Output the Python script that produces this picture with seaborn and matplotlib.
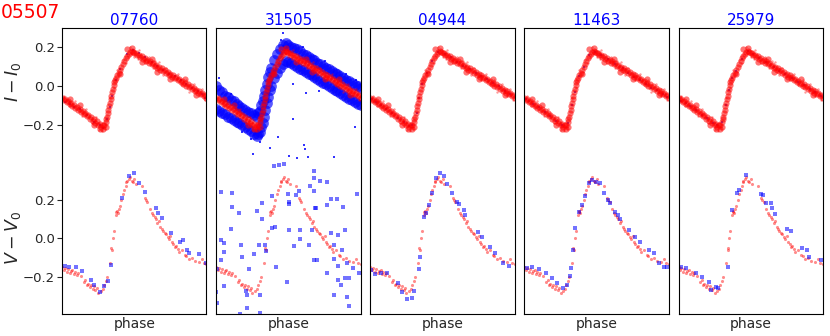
import numpy as np
import pandas as pd
import matplotlib
matplotlib.use("Agg")
import matplotlib.pyplot as plt
import seaborn as sns

STAR = "05507"
COMPARISONS = ["07760", "31505", "04944", "11463", "25979"]

# ---- target star (red), same in every panel: (phase, I - I0) ----
red_i = [
    (0.00, -0.060), (0.01, -0.075), (0.02, -0.068), (0.03, -0.085), (0.04, -0.080),
    (0.05, -0.095), (0.06, -0.088), (0.07, -0.105), (0.08, -0.100), (0.09, -0.115),
    (0.10, -0.110), (0.11, -0.125), (0.12, -0.118), (0.13, -0.135), (0.14, -0.128),
    (0.15, -0.147), (0.16, -0.140), (0.17, -0.158), (0.18, -0.150), (0.19, -0.170),
    (0.20, -0.160), (0.21, -0.180), (0.22, -0.172), (0.23, -0.190), (0.24, -0.182),
    (0.25, -0.205), (0.26, -0.195), (0.27, -0.215), (0.28, -0.205), (0.285, -0.222),
    (0.29, -0.200), (0.30, -0.185), (0.305, -0.170), (0.31, -0.160), (0.315, -0.140),
    (0.32, -0.125), (0.325, -0.105), (0.33, -0.090), (0.335, -0.070), (0.34, -0.050),
    (0.345, -0.030), (0.35, -0.015), (0.355, 0.005), (0.36, 0.020), (0.365, 0.030),
    (0.37, 0.040), (0.38, 0.055), (0.39, 0.070), (0.40, 0.085), (0.41, 0.100),
    (0.42, 0.115), (0.43, 0.128), (0.44, 0.145), (0.45, 0.155), (0.46, 0.168),
    (0.47, 0.175), (0.48, 0.182), (0.49, 0.176), (0.50, 0.170), (0.51, 0.172),
    (0.52, 0.160), (0.53, 0.162), (0.54, 0.150), (0.55, 0.155), (0.56, 0.140),
    (0.57, 0.145), (0.58, 0.130), (0.59, 0.137), (0.60, 0.122), (0.61, 0.128),
    (0.62, 0.112), (0.63, 0.120), (0.64, 0.103), (0.65, 0.110), (0.66, 0.095),
    (0.67, 0.100), (0.68, 0.085), (0.69, 0.092), (0.70, 0.076), (0.71, 0.083),
    (0.72, 0.066), (0.73, 0.074), (0.74, 0.057), (0.75, 0.064), (0.76, 0.048),
    (0.77, 0.055), (0.78, 0.039), (0.79, 0.046), (0.80, 0.029), (0.81, 0.036),
    (0.82, 0.020), (0.83, 0.027), (0.84, 0.011), (0.85, 0.018), (0.86, 0.002),
    (0.87, 0.009), (0.88, -0.007), (0.89, 0.000), (0.90, -0.017), (0.91, -0.010),
    (0.92, -0.026), (0.93, -0.019), (0.94, -0.035), (0.95, -0.028), (0.96, -0.044),
    (0.97, -0.037), (0.98, -0.053), (0.99, -0.047), (1.00, -0.062),
    (0.12, -0.100), (0.22, -0.205), (0.26, -0.225), (0.30, -0.215), (0.40, 0.060),
    (0.45, 0.190), (0.55, 0.125), (0.62, 0.140), (0.75, 0.035), (0.85, 0.035),
    (0.93, -0.045), (0.05, -0.070), (0.48, 0.195), (0.66, 0.075),
]
# sparse fringe of fainter target points around the band
red_i_fringe = [
    (0.015, -0.050), (0.045, -0.105), (0.085, -0.080), (0.135, -0.155), (0.165, -0.120),
    (0.205, -0.190), (0.235, -0.160), (0.255, -0.230), (0.275, -0.235), (0.295, -0.225),
    (0.33, -0.060), (0.36, -0.010), (0.38, 0.085), (0.42, 0.135), (0.44, 0.120),
    (0.47, 0.200), (0.50, 0.150), (0.53, 0.185), (0.57, 0.120), (0.60, 0.150),
    (0.63, 0.095), (0.67, 0.125), (0.70, 0.055), (0.72, 0.095), (0.77, 0.030),
    (0.80, 0.060), (0.83, 0.005), (0.86, 0.030), (0.88, -0.030), (0.91, 0.010),
    (0.95, -0.050), (0.97, -0.015), (0.99, -0.075), (0.525, 0.140), (0.645, 0.130),
]

# ---- target star (red): (phase, V - V0) ----
red_v = [
    (0.00, -0.150), (0.01, -0.165), (0.02, -0.155), (0.03, -0.175), (0.04, -0.160),
    (0.05, -0.180), (0.06, -0.170), (0.07, -0.165), (0.08, -0.185), (0.09, -0.175),
    (0.10, -0.190), (0.11, -0.180), (0.13, -0.195), (0.15, -0.225), (0.16, -0.215),
    (0.17, -0.245), (0.18, -0.235), (0.19, -0.255), (0.20, -0.240), (0.21, -0.265),
    (0.22, -0.250), (0.23, -0.270), (0.24, -0.260), (0.25, -0.285), (0.27, -0.275),
    (0.28, -0.265), (0.29, -0.240), (0.30, -0.220), (0.31, -0.200), (0.33, -0.130),
    (0.34, -0.050), (0.345, -0.060), (0.35, 0.000), (0.36, 0.040), (0.37, 0.120),
    (0.375, 0.135), (0.38, 0.140), (0.385, 0.130), (0.39, 0.150), (0.40, 0.170),
    (0.41, 0.200), (0.42, 0.230), (0.43, 0.250), (0.44, 0.270), (0.445, 0.290),
    (0.45, 0.300), (0.46, 0.310), (0.47, 0.320), (0.48, 0.300), (0.49, 0.290),
    (0.50, 0.310), (0.51, 0.280), (0.55, 0.270), (0.57, 0.210), (0.58, 0.200),
    (0.59, 0.190), (0.61, 0.150), (0.62, 0.130), (0.63, 0.120), (0.64, 0.110),
    (0.65, 0.100), (0.66, 0.080), (0.67, 0.090), (0.68, 0.060), (0.69, 0.050),
    (0.70, 0.040), (0.71, 0.030), (0.72, 0.020), (0.73, 0.005), (0.74, -0.005),
    (0.75, 0.010), (0.76, -0.020), (0.77, -0.030), (0.78, -0.045), (0.79, -0.040),
    (0.80, -0.055), (0.81, -0.070), (0.83, -0.060), (0.85, -0.085), (0.86, -0.090),
    (0.88, -0.110), (0.90, -0.100), (0.92, -0.120), (0.95, -0.125), (0.97, -0.110),
    (0.98, -0.130), (1.00, -0.135),
]

# ---- comparison stars (blue) ----
blue_i_07760 = [
    (0.02, -0.085), (0.05, -0.092), (0.08, -0.110), (0.12, -0.120), (0.17, -0.150),
    (0.22, -0.185), (0.26, -0.205), (0.28, -0.218), (0.31, -0.170), (0.33, -0.110),
    (0.345, -0.050), (0.37, 0.030), (0.40, 0.090), (0.45, 0.165), (0.49, 0.185),
    (0.53, 0.170), (0.57, 0.150), (0.62, 0.125), (0.66, 0.105), (0.70, 0.085),
    (0.74, 0.060), (0.78, 0.050), (0.82, 0.030), (0.86, 0.012), (0.90, -0.010),
    (0.94, -0.025), (0.97, -0.040), (0.99, -0.060),
]
blue_v_07760 = [
    (0.019, -0.144), (0.046, -0.150), (0.092, -0.150), (0.134, -0.171), (0.198, -0.214),
    (0.220, -0.245), (0.260, -0.280), (0.290, -0.250), (0.318, -0.223), (0.337, -0.137),
    (0.411, 0.211), (0.462, 0.323), (0.497, 0.337), (0.531, 0.289), (0.573, 0.243),
    (0.647, 0.157), (0.665, 0.130), (0.693, 0.104), (0.757, 0.028), (0.813, -0.017),
    (0.840, -0.007), (0.868, -0.059), (0.877, -0.076), (0.947, -0.081), (1.000, -0.130),
]

blue_i_31505_upper = [
    (0.00, 0.000), (0.02, -0.020), (0.04, -0.030), (0.06, -0.050), (0.08, -0.055),
    (0.10, -0.075), (0.12, -0.080), (0.14, -0.095), (0.16, -0.105), (0.18, -0.112),
    (0.20, -0.125), (0.22, -0.135), (0.24, -0.140), (0.26, -0.150), (0.28, -0.160),
    (0.29, -0.140), (0.30, -0.130), (0.31, -0.100), (0.32, -0.080), (0.33, -0.050),
    (0.34, -0.020), (0.35, 0.010), (0.36, 0.045), (0.37, 0.075), (0.38, 0.095),
    (0.40, 0.135), (0.42, 0.165), (0.44, 0.190), (0.46, 0.215), (0.48, 0.225),
    (0.50, 0.215), (0.52, 0.205), (0.54, 0.195), (0.56, 0.190), (0.58, 0.180),
    (0.60, 0.168), (0.62, 0.160), (0.64, 0.150), (0.66, 0.140), (0.68, 0.135),
    (0.70, 0.122), (0.72, 0.115), (0.74, 0.105), (0.76, 0.095), (0.78, 0.088),
    (0.80, 0.078), (0.82, 0.070), (0.84, 0.060), (0.86, 0.050), (0.88, 0.042),
    (0.90, 0.032), (0.92, 0.025), (0.94, 0.015), (0.96, 0.005), (0.98, -0.002),
    (1.00, -0.010),
]
blue_i_31505_lower = [
    (0.00, -0.120), (0.02, -0.128), (0.04, -0.140), (0.06, -0.145), (0.08, -0.160),
    (0.10, -0.165), (0.12, -0.175), (0.14, -0.185), (0.16, -0.190), (0.18, -0.205),
    (0.20, -0.212), (0.22, -0.222), (0.24, -0.235), (0.26, -0.250), (0.28, -0.258),
    (0.29, -0.250), (0.30, -0.240), (0.31, -0.215), (0.32, -0.190), (0.33, -0.160),
    (0.34, -0.125), (0.35, -0.090), (0.36, -0.055), (0.37, -0.020), (0.38, 0.000),
    (0.40, 0.040), (0.42, 0.070), (0.44, 0.095), (0.46, 0.115), (0.48, 0.130),
    (0.50, 0.125), (0.52, 0.118), (0.54, 0.110), (0.56, 0.100), (0.58, 0.090),
    (0.60, 0.082), (0.62, 0.072), (0.64, 0.062), (0.66, 0.055), (0.68, 0.045),
    (0.70, 0.035), (0.72, 0.028), (0.74, 0.018), (0.76, 0.008), (0.78, 0.000),
    (0.80, -0.010), (0.82, -0.020), (0.84, -0.028), (0.86, -0.038), (0.88, -0.046),
    (0.90, -0.056), (0.92, -0.065), (0.94, -0.075), (0.96, -0.082), (0.98, -0.092),
    (1.00, -0.100),
]
blue_i_31505_outliers = [
    (0.375, -0.324), (0.428, -0.267), (0.528, -0.171), (0.606, -0.306), (0.613, -0.327),
    (0.636, -0.367), (0.504, -0.364), (0.254, -0.353), (0.556, -0.372), (0.815, -0.370),
    (0.463, 0.274), (0.963, -0.211), (0.625, -0.035), (0.715, -0.025), (0.528, 0.010),
    (0.02, 0.040), (0.10, -0.040), (0.24, -0.275), (0.30, -0.290), (0.45, 0.240),
    (0.60, 0.205), (0.75, 0.130), (0.90, 0.060), (0.97, 0.030), (0.18, -0.240),
]
blue_v_31505 = [
    (0.398, 0.377), (0.435, 0.381), (0.467, 0.386), (0.678, 0.350), (0.678, 0.312),
    (0.717, 0.299), (0.768, 0.292), (0.648, 0.273), (0.574, 0.246), (0.676, 0.247),
    (0.032, 0.239), (0.106, 0.235), (0.386, 0.221), (0.500, 0.230), (0.551, 0.227),
    (0.972, 0.229), (0.796, 0.203), (0.838, 0.204), (0.504, 0.190), (0.317, 0.182),
    (0.504, 0.177), (0.106, 0.164), (0.764, 0.175), (0.685, 0.159), (0.694, 0.156),
    (0.879, 0.161), (0.155, 0.133), (0.280, 0.142), (0.317, 0.102), (0.407, 0.060),
    (0.099, 0.047), (0.384, 0.055), (0.504, 0.043), (0.583, 0.043), (0.662, 0.043),
    (0.893, 0.042), (0.847, 0.016), (0.796, 0.026), (0.032, -0.010), (0.056, -0.024),
    (0.539, -0.042), (0.169, -0.035), (0.296, -0.036), (0.338, -0.035), (0.583, -0.004),
    (0.643, -0.035), (0.261, -0.083), (0.813, -0.035), (0.872, -0.061), (0.056, -0.070),
    (0.342, -0.068), (0.176, -0.097), (0.032, -0.111), (0.680, -0.113), (0.701, -0.113),
    (0.815, -0.108), (0.903, -0.130), (0.004, -0.158), (0.226, -0.161), (0.414, -0.151),
    (0.842, -0.144), (0.951, -0.154), (0.768, -0.182), (0.988, -0.180), (0.891, -0.206),
    (0.053, -0.249), (0.493, -0.225), (0.921, -0.208), (0.845, -0.218), (0.863, -0.241),
    (0.000, -0.277), (0.203, -0.275), (0.213, -0.293), (0.301, -0.296), (0.815, -0.293),
    (0.905, -0.303), (0.004, -0.338), (0.213, -0.360), (0.921, -0.352), (0.301, -0.387),
    (0.164, -0.393),
]

blue_i_04944 = [
    (0.01, -0.070), (0.04, -0.085), (0.07, -0.100), (0.11, -0.118), (0.15, -0.140),
    (0.19, -0.165), (0.23, -0.185), (0.27, -0.210), (0.29, -0.205), (0.32, -0.140),
    (0.34, -0.060), (0.36, 0.010), (0.39, 0.065), (0.43, 0.130), (0.47, 0.178),
    (0.52, 0.165), (0.56, 0.150), (0.60, 0.125), (0.64, 0.105), (0.69, 0.090),
    (0.73, 0.070), (0.77, 0.050), (0.81, 0.035), (0.85, 0.015), (0.89, 0.000),
    (0.93, -0.025), (0.97, -0.040),
]
blue_v_04944 = [
    (0.007, -0.165), (0.035, -0.187), (0.074, -0.182), (0.115, -0.182), (0.189, -0.231),
    (0.219, -0.277), (0.254, -0.317), (0.289, -0.312), (0.300, -0.274), (0.334, -0.161),
    (0.346, -0.095), (0.374, 0.112), (0.385, 0.133), (0.404, 0.173), (0.427, 0.234),
    (0.457, 0.312), (0.485, 0.341), (0.508, 0.324), (0.531, 0.282), (0.566, 0.234),
    (0.600, 0.190), (0.612, 0.177), (0.646, 0.147), (0.658, 0.121), (0.743, 0.034),
    (0.774, 0.005), (0.826, -0.044), (0.866, -0.078), (0.919, -0.127), (0.958, -0.144),
]

blue_i_11463 = [
    (0.01, -0.070), (0.03, -0.080), (0.06, -0.092), (0.10, -0.110), (0.14, -0.135),
    (0.18, -0.155), (0.22, -0.180), (0.26, -0.200), (0.30, -0.190), (0.33, -0.100),
    (0.35, -0.030), (0.38, 0.050), (0.41, 0.100), (0.45, 0.160), (0.49, 0.175),
    (0.53, 0.160), (0.58, 0.140), (0.63, 0.115), (0.68, 0.095), (0.72, 0.070),
    (0.76, 0.045), (0.80, 0.030), (0.84, 0.010), (0.88, -0.010), (0.92, -0.020),
    (0.96, -0.040), (0.99, -0.055),
]
blue_v_11463 = [
    (0.018, -0.156), (0.053, -0.147), (0.099, -0.161), (0.146, -0.182), (0.192, -0.208),
    (0.226, -0.234), (0.268, -0.260), (0.296, -0.243), (0.319, -0.196), (0.323, -0.156),
    (0.337, -0.061), (0.353, 0.052), (0.376, 0.138), (0.400, 0.173), (0.423, 0.220),
    (0.446, 0.286), (0.469, 0.303), (0.499, 0.294), (0.527, 0.286), (0.550, 0.234),
    (0.577, 0.199), (0.596, 0.182), (0.631, 0.138), (0.649, 0.121), (0.665, 0.099),
    (0.723, 0.043), (0.769, 0.008), (0.799, -0.018), (0.861, -0.061), (0.896, -0.078),
    (0.931, -0.130), (0.965, -0.147), (0.989, -0.147),
]

blue_i_25979 = [
    (0.02, -0.080), (0.05, -0.090), (0.08, -0.105), (0.12, -0.125), (0.16, -0.150),
    (0.20, -0.165), (0.24, -0.190), (0.27, -0.205), (0.30, -0.185), (0.33, -0.100),
    (0.35, -0.020), (0.37, 0.040), (0.40, 0.080), (0.44, 0.140), (0.48, 0.180),
    (0.52, 0.165), (0.56, 0.145), (0.61, 0.125), (0.66, 0.100), (0.70, 0.080),
    (0.74, 0.060), (0.79, 0.040), (0.83, 0.020), (0.87, 0.005), (0.91, -0.015),
    (0.95, -0.030), (0.99, -0.050),
]
blue_v_25979 = [
    (0.018, -0.147), (0.053, -0.156), (0.122, -0.182), (0.161, -0.203), (0.214, -0.225),
    (0.225, -0.269), (0.259, -0.251), (0.271, -0.260), (0.344, -0.147), (0.374, 0.147),
    (0.409, 0.234), (0.420, 0.251), (0.466, 0.329), (0.569, 0.230), (0.588, 0.225),
    (0.604, 0.185), (0.638, 0.185), (0.650, 0.156), (0.672, 0.126), (0.753, 0.047),
    (0.780, 0.039), (0.856, -0.052), (0.891, -0.061), (0.908, -0.095), (0.987, -0.113),
]

# vertical placement of the two light curves inside one column
V_SHIFT = 0.791
Y_TOP, Y_BOTTOM = 0.30, -1.184


def to_df(points, shift=0.0):
    df = pd.DataFrame(points, columns=["phase", "mag"])
    df["y"] = df["mag"] - shift
    return df


def dots(ax, df, color, s, alpha, marker="o"):
    sns.scatterplot(data=df, x="phase", y="y", ax=ax, color=color, s=s, alpha=alpha,
                    marker=marker, linewidth=0, legend=False)


sns.set_style("ticks")
plt.rcParams["font.family"] = ["DejaVu Sans"]

fig, axes = plt.subplots(1, 5, figsize=(8.3, 3.36), dpi=100, sharey=True)
fig.subplots_adjust(left=0.0751, right=0.9912, top=0.916, bottom=0.0655, wspace=0.0686)

panels = {
    "07760": ([blue_i_07760], blue_v_07760),
    "31505": ([blue_i_31505_upper, blue_i_31505_lower], blue_v_31505),
    "04944": ([blue_i_04944], blue_v_04944),
    "11463": ([blue_i_11463], blue_v_11463),
    "25979": ([blue_i_25979], blue_v_25979),
}

red_i_df = to_df(red_i)
red_fringe_df = to_df(red_i_fringe)
red_v_df = to_df(red_v, V_SHIFT)

for ax, name in zip(axes, COMPARISONS):
    blue_i_sets, blue_v = panels[name]
    if name == "31505":
        for band in blue_i_sets:
            dots(ax, to_df(band), "blue", 60, 0.65)
        dots(ax, to_df(blue_i_31505_outliers), "blue", 4, 0.8, "s")
    else:
        dots(ax, to_df(blue_i_sets[0]), "blue", 4, 0.7, "s")
    dots(ax, red_fringe_df, "red", 3, 0.4)
    dots(ax, red_i_df, "red", 20, 0.55)
    dots(ax, red_v_df, "red", 5, 0.45)
    dots(ax, to_df(blue_v, V_SHIFT), "blue", 6, 0.55, "s")

    ax.set_xlim(0, 1)
    ax.set_ylim(Y_BOTTOM, Y_TOP)
    ax.set_xticks([])
    ax.set_xlabel("phase", fontsize=10, labelpad=2)
    ax.set_ylabel("")
    ax.set_title(name, color="blue", fontsize=11, pad=2.5)
    for sp in ax.spines.values():
        sp.set_visible(True)
        sp.set_color("black")
        sp.set_linewidth(0.8)
    if ax is not axes[0]:
        ax.tick_params(left=False, labelleft=False)

ticks = [0.2, 0.0, -0.2, 0.2 - V_SHIFT, -V_SHIFT, -0.2 - V_SHIFT]
axes[0].set_yticks(ticks)
axes[0].set_yticklabels(["0.2", "0.0", "\u22120.2", "0.2", "0.0", "\u22120.2"])
axes[0].tick_params(axis="y", labelsize=9.5, length=3.5, width=0.8, pad=2)

fig.text(13 / 830, 1 - 82 / 336, "$I - I_0$", rotation=90, ha="center", va="center", fontsize=12.5)
fig.text(13 / 830, 1 - 238 / 336, "$V - V_0$", rotation=90, ha="center", va="center", fontsize=12.5)
fig.text(1 / 830, 1 - 13 / 336, STAR, color="red", ha="left", va="center", fontsize=13.5)

plt.savefig("out.png", dpi=100)
plt.close()
